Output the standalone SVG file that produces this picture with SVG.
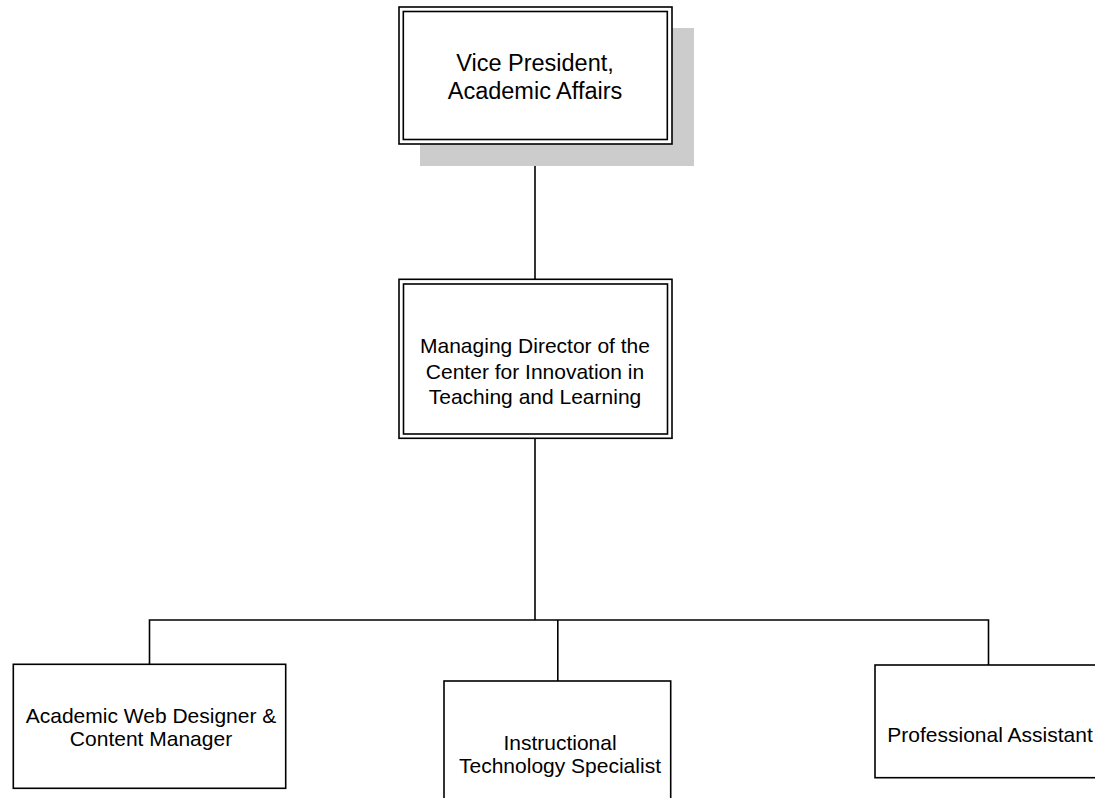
<svg xmlns="http://www.w3.org/2000/svg" width="1095" height="798" viewBox="0 0 1095 798">
<style>
.box{fill:#fff;stroke:#000;stroke-width:1.6}
.inner{fill:none;stroke:#000;stroke-width:1.6}
.shadow{fill:#cccccc}
.conn{fill:none;stroke:#000;stroke-width:1.6}
text{font-family:"Liberation Sans",Arial,sans-serif;fill:#000;text-anchor:middle}
.t21{font-size:21px}
.t24{font-size:23.5px}
</style>
<rect width="1095" height="798" fill="#fff"/>
<g id="connectors">
<line class="conn" x1="535" y1="144" x2="535" y2="279"/>
<line class="conn" x1="535" y1="438" x2="535" y2="620"/>
<polyline class="conn" points="149.5,664 149.5,620 988.5,620 988.5,665"/>
<line class="conn" x1="557.8" y1="620" x2="557.8" y2="681"/>
</g>
<g id="vp">
<rect class="shadow" x="420" y="28" width="274" height="138"/>
<rect class="box" x="399" y="7" width="273" height="137"/>
<rect class="inner" x="403.3" y="11.5" width="264" height="128"/>
<text class="t24" x="535" y="71">Vice President,</text>
<text class="t24" x="535" y="99">Academic Affairs</text>
</g>
<g id="md">
<rect class="box" x="399" y="279.3" width="273" height="159"/>
<rect class="inner" x="403.5" y="284" width="264" height="150"/>
<text class="t21" x="535" y="353.3">Managing Director of the</text>
<text class="t21" x="535" y="378.8">Center for Innovation in</text>
<text class="t21" x="535" y="404.3">Teaching and Learning</text>
</g>
<g id="webdesigner">
<rect class="box" x="13.3" y="664.3" width="272.4" height="124"/>
<text class="t21" x="151" y="723.3">Academic Web Designer &amp;</text>
<text class="t21" x="151" y="746">Content Manager</text>
</g>
<g id="instructional">
<rect class="box" x="444" y="681" width="226.7" height="130"/>
<text class="t21" x="560" y="750">Instructional</text>
<text class="t21" x="560" y="773.3">Technology Specialist</text>
</g>
<g id="assistant">
<rect class="box" x="875" y="665" width="240" height="112.7"/>
<text class="t21" x="990" y="741.7">Professional Assistant</text>
</g>
</svg>
